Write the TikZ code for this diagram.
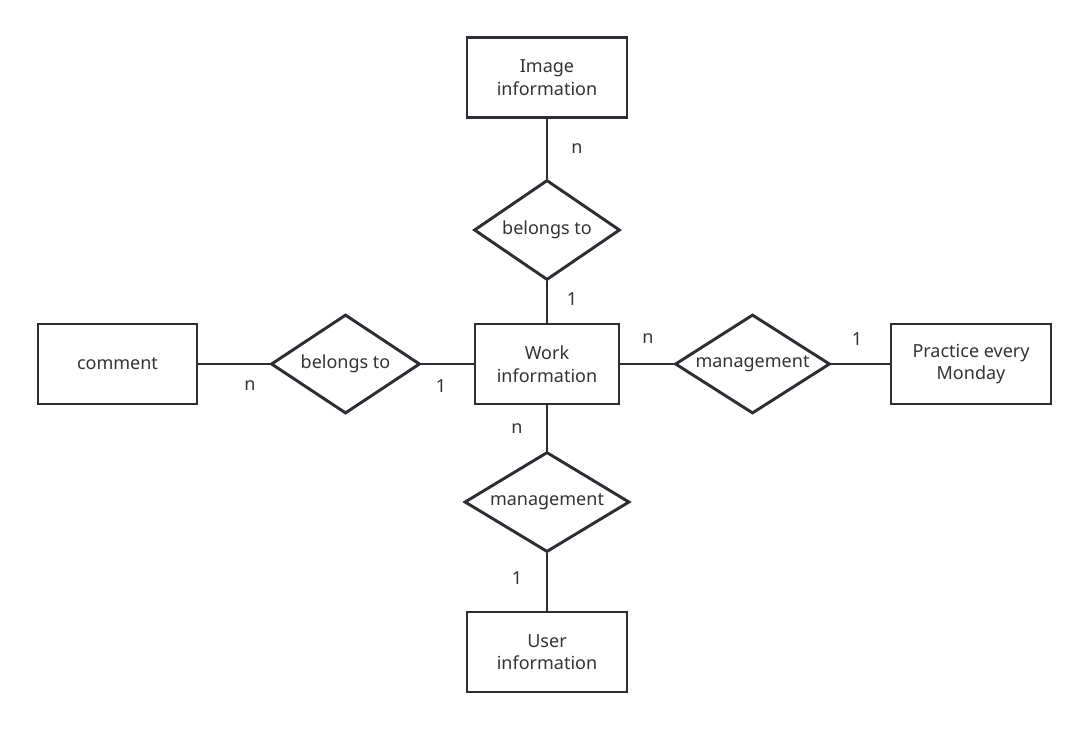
\documentclass[tikz,border=0pt]{standalone}
\usepackage{fontspec}
\setmainfont{Noto Sans}
\usetikzlibrary{shapes.geometric}
\definecolor{edge}{HTML}{2B2F33}
\definecolor{txt}{HTML}{333333}
\begin{document}
\begin{tikzpicture}[x=0.75pt,y=-0.75pt,
  entity/.style={draw=edge,line width=2.2pt,fill=white,rectangle,minimum width=120pt,minimum height=60pt,inner sep=0pt,align=center,text=txt,font=\fontsize{13.5}{17}\selectfont},
  rel/.style={draw=edge,line width=2.2pt,fill=white,diamond,aspect=1.5,inner sep=0pt,text=txt,font=\fontsize{13.5}{17}\selectfont},
  conn/.style={draw=edge,line width=2pt},
  card/.style={text=txt,font=\fontsize{13.5}{17}\selectfont,inner sep=0pt}]
\useasboundingbox (0,0) rectangle (1087,729);
\node[entity] (img) at (547,77.5) {Image\\information};
\node[rel,minimum width=109.5pt,minimum height=75pt] (bt1) at (547,230) {belongs to};
\node[entity,minimum width=108pt] (work) at (547,364) {Work\\information};
\node[entity,minimum width=119.25pt] (comment) at (117.5,364) {comment};
\node[rel,minimum width=111.75pt,minimum height=74.25pt] (bt2) at (345.5,364) {belongs to};
\node[rel,minimum width=116.25pt,minimum height=74.25pt] (mg1) at (752.5,364) {management};
\node[entity] (prac) at (971,364) {Practice every\\Monday};
\node[rel,minimum width=123.75pt,minimum height=75pt] (mg2) at (547,502) {management};
\node[entity] (user) at (547,652) {User\\information};
\draw[conn] (img.south) -- (bt1.north);
\draw[conn] (bt1.south) -- (work.north);
\draw[conn] (comment.east) -- (bt2.west);
\draw[conn] (bt2.east) -- (work.west);
\draw[conn] (work.east) -- (mg1.west);
\draw[conn] (mg1.east) -- (prac.west);
\draw[conn] (work.south) -- (mg2.north);
\draw[conn] (mg2.south) -- (user.north);
\node[card] (c1) at (577,149) {n};
\node[card] (c2) at (572,299) {1};
\node[card] (c3) at (250,386) {n};
\node[card] (c4) at (441,386) {1};
\node[card] (c5) at (648,339) {n};
\node[card] (c6) at (857,339) {1};
\node[card] (c7) at (517,429) {n};
\node[card] (c8) at (517,578) {1};
\end{tikzpicture}
\end{document}
